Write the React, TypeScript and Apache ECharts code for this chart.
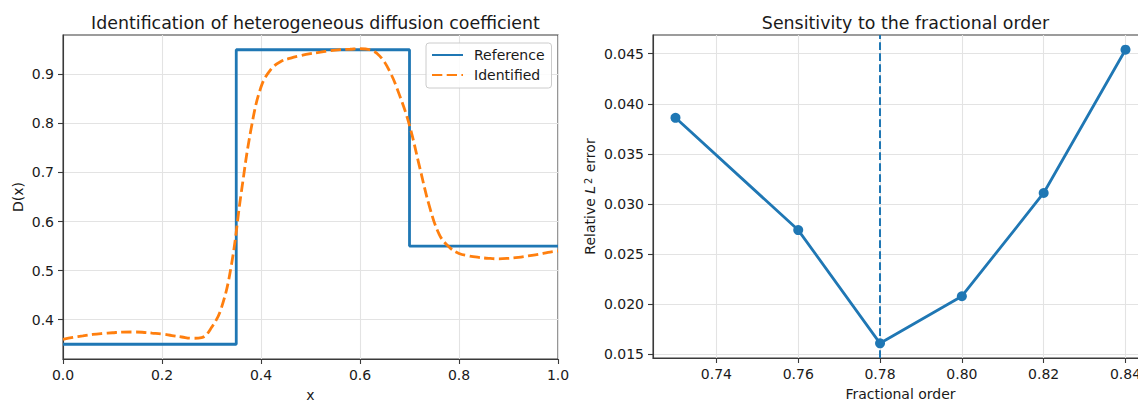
import React, { useEffect, useRef } from 'react';
import * as echarts from 'echarts';

// ---- Data ----
const refX = [0, 0.35, 0.35, 0.7, 0.7, 1.0];
const refY = [0.35, 0.35, 0.95, 0.95, 0.55, 0.55];

const idX = [0, 0.02, 0.04, 0.06, 0.08, 0.10, 0.12, 0.14, 0.16, 0.18, 0.20, 0.22, 0.24, 0.26, 0.28, 0.30, 0.32, 0.34, 0.36, 0.38, 0.40, 0.42, 0.44, 0.46, 0.48, 0.50, 0.52, 0.54, 0.56, 0.58, 0.60, 0.62, 0.64, 0.66, 0.68, 0.70, 0.72, 0.74, 0.76, 0.78, 0.80, 0.82, 0.84, 0.86, 0.88, 0.90, 0.92, 0.94, 0.96, 0.98, 1.00];
const idY = [0.360, 0.364, 0.367, 0.370, 0.372, 0.3735, 0.3748, 0.375, 0.3745, 0.3728, 0.371, 0.3678, 0.3648, 0.3622, 0.3635, 0.384, 0.424, 0.510, 0.658, 0.789, 0.874, 0.910, 0.926, 0.933, 0.938, 0.942, 0.945, 0.948, 0.950, 0.951, 0.952, 0.950, 0.937, 0.906, 0.857, 0.796, 0.713, 0.632, 0.574, 0.548, 0.535, 0.530, 0.527, 0.525, 0.524, 0.525, 0.527, 0.530, 0.533, 0.537, 0.540];

const fracOrder = [0.73, 0.76, 0.78, 0.80, 0.82, 0.84];
const relErr = [0.0386, 0.0274, 0.0161, 0.0208, 0.0311, 0.0454];
const bestOrder = 0.78;

const leftXTicks = [0.0, 0.2, 0.4, 0.6, 0.8, 1.0];
const leftYTicks = [0.4, 0.5, 0.6, 0.7, 0.8, 0.9];
const rightXTicks = [0.74, 0.76, 0.78, 0.80, 0.82, 0.84];
const rightYTicks = [0.015, 0.020, 0.025, 0.030, 0.035, 0.040, 0.045];

// ---- Styles ----
const FONT = 'DejaVu Sans';
const TXT = '#1a1a1a';
const SPINE = '#3a3a3a';
const GRIDC = '#e3e3e3';
const BLUE = '#1f77b4';
const ORANGE = '#ff7f0e';
const FS = 14;
const TFS = 17.4;

function axis(ticks: number[], digits: number, extra: any) {
  return {
    type: 'value',
    axisLine: { show: true, onZero: false, lineStyle: { color: SPINE, width: 1.1 } },
    axisTick: { show: true, length: 5, customValues: ticks, lineStyle: { color: SPINE, width: 1.1 } },
    axisLabel: {
      customValues: ticks,
      formatter: (v: number) => v.toFixed(digits),
      color: TXT,
      fontSize: FS,
      fontFamily: FONT,
      margin: 9,
      showMinLabel: true,
      showMaxLabel: true,
    },
    splitLine: { show: true, lineStyle: { color: GRIDC, width: 1.1 } },
    nameLocation: 'middle',
    nameTextStyle: { fontSize: FS, color: TXT, fontFamily: FONT },
    ...extra,
  };
}

export default function App() {
  const ref = useRef<HTMLDivElement>(null);
  useEffect(() => {
    if (!ref.current) return;
    const chart = echarts.init(ref.current, undefined, { renderer: 'svg' });
    const option: any = {
      animation: false,
      textStyle: { fontFamily: FONT },
      title: [
        {
          text: 'Identification of heterogeneous diffusion coefficient',
          left: 310.5, top: 9, textAlign: 'center',
          textStyle: { fontSize: TFS, fontWeight: 'normal', color: TXT, fontFamily: FONT },
        },
        {
          text: 'Sensitivity to the fractional order',
          left: 900.5, top: 9, textAlign: 'center',
          textStyle: { fontSize: TFS, fontWeight: 'normal', color: TXT, fontFamily: FONT },
        },
      ],
      legend: {
        data: ['Reference', 'Identified'],
        orient: 'vertical',
        left: 426, top: 43,
        itemWidth: 31, itemHeight: 14, itemGap: 6,
        padding: [5, 7, 6, 5],
        backgroundColor: 'rgba(255,255,255,0.85)',
        borderColor: '#cccccc', borderWidth: 1, borderRadius: 3,
        itemStyle: { opacity: 0, borderWidth: 0 },
        textStyle: { fontSize: FS, color: TXT, fontFamily: FONT, padding: [0, 0, 0, 6] },
      },
      grid: [
        { left: 63, width: 495, top: 35, bottom: 44, show: true, borderColor: SPINE, borderWidth: 1.1, backgroundColor: 'transparent', containLabel: false, outerBoundsMode: 'none' },
        { left: 653, width: 495, top: 35, bottom: 45, show: true, borderColor: SPINE, borderWidth: 1.1, backgroundColor: 'transparent', containLabel: false, outerBoundsMode: 'none' },
      ],
      xAxis: [
        axis(leftXTicks, 1, { gridIndex: 0, min: 0, max: 1, name: 'x', nameGap: 29 }),
        axis(rightXTicks, 2, { gridIndex: 1, min: 0.7245, max: 0.8455, name: 'Fractional order', nameGap: 29 }),
      ],
      yAxis: [
        axis(leftYTicks, 1, { gridIndex: 0, min: 0.32, max: 0.98, name: 'D(x)', nameGap: 38 }),
        axis(rightYTicks, 3, {
          gridIndex: 1, min: 0.014635, max: 0.046865,
          name: '{n|Relative }{i|L}{s|2}{n| error}', nameGap: 56,
          nameTextStyle: {
            fontSize: FS, color: TXT, fontFamily: FONT,
            rich: {
              n: { fontSize: FS, color: TXT, fontFamily: FONT },
              i: { fontSize: FS, color: TXT, fontFamily: FONT, fontStyle: 'italic' },
              s: { fontSize: 9.8, color: TXT, fontFamily: FONT, verticalAlign: 'top', padding: [0, 1, 0, 2] },
            },
          },
        }),
      ],
      series: [
        {
          name: 'Reference', type: 'line', xAxisIndex: 0, yAxisIndex: 0,
          data: refX.map((x, i) => [x, refY[i]]),
          symbol: 'none', showSymbol: false,
          lineStyle: { color: BLUE, width: 2.8 }, itemStyle: { color: BLUE },
        },
        {
          name: 'Identified', type: 'line', xAxisIndex: 0, yAxisIndex: 0,
          data: idX.map((x, i) => [x, idY[i]]),
          symbol: 'none', showSymbol: false, smooth: 0.4,
          lineStyle: { color: ORANGE, width: 2.8, type: [10.3, 4.4] }, itemStyle: { color: ORANGE },
        },
        {
          name: 'error', type: 'line', xAxisIndex: 1, yAxisIndex: 1,
          data: fracOrder.map((x, i) => [x, relErr[i]]),
          symbol: 'circle', symbolSize: 10,
          lineStyle: { color: BLUE, width: 2.8 }, itemStyle: { color: BLUE },
          markLine: {
            silent: true, symbol: 'none', label: { show: false },
            lineStyle: { color: BLUE, width: 2, type: [7.7, 3.3] },
            data: [{ xAxis: bestOrder }],
          },
        },
      ],
    };
    chart.setOption(option);
    return () => chart.dispose();
  }, []);
  return <div ref={ref} style={{ position: 'absolute', left: 0, top: 0, width: 1138, height: 403 }} />;
}
